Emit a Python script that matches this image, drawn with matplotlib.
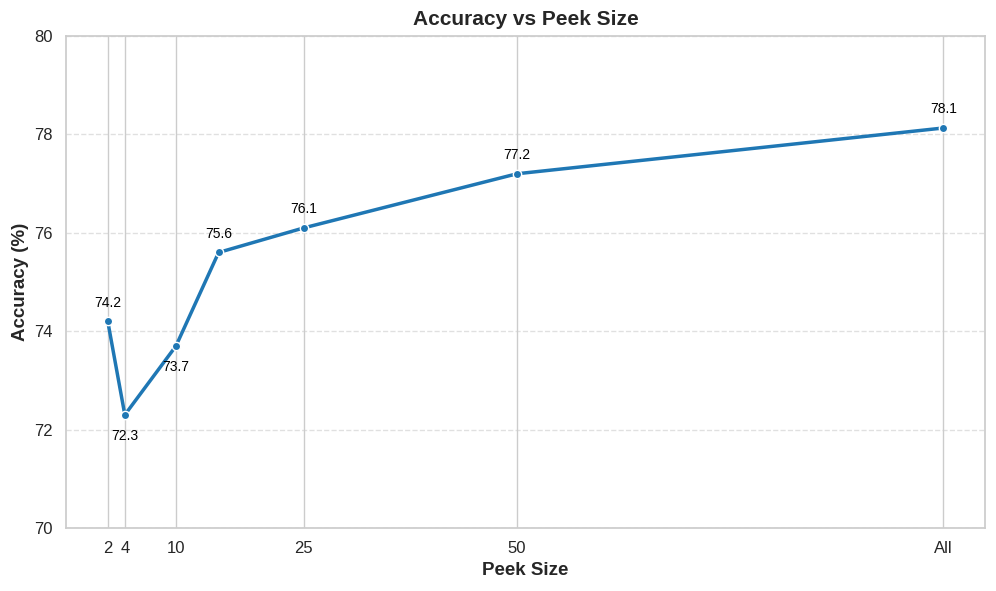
import matplotlib
matplotlib.use("Agg")
import matplotlib.pyplot as plt
import seaborn as sns

peek_sizes = [2, 4, 10, 15, 25, 50, 100]
accuracy = [74.2, 72.3, 73.7, 75.6, 76.1, 77.2, 78.13]
labels = ["74.2", "72.3", "73.7", "75.6", "76.1", "77.2", "78.1"]
label_below = [False, True, True, False, False, False, False]
tick_positions = [2, 4, 10, 25, 50, 100]
tick_labels = ["2", "4", "10", "25", "50", "All"]

sns.set_theme(style="whitegrid")
plt.rcParams['font.family'] = ['Liberation Sans', 'DejaVu Sans']

fig = plt.figure(figsize=(9.96, 5.91), dpi=100)
ax = fig.add_axes([66/996, 1-528/591, (985-66)/996, (528-36)/591])

ax.plot(peek_sizes, accuracy, color="#1f77b4", linewidth=2.5, marker="o",
        markersize=6, markeredgecolor="white", markeredgewidth=1)

for x, y, t, below in zip(peek_sizes, accuracy, labels, label_below):
    ax.annotate(t, (x, y), textcoords="offset points",
                xytext=(0, -15 if below else 13.5), ha="center", va="center",
                fontsize=10, color="black")

ax.set_ylim(70, 80)
ax.set_xticks(tick_positions)
ax.set_xticklabels(tick_labels)
ax.tick_params(axis="both", labelsize=12, colors="#262626")
ax.grid(axis="y", linestyle="--", alpha=0.6)
ax.grid(axis="x", linestyle="-")
ax.set_xlabel("Peek Size", fontsize=13.5, fontweight="bold", color="#262626")
ax.set_ylabel("Accuracy (%)", fontsize=13.5, fontweight="bold", color="#262626")
ax.set_title("Accuracy vs Peek Size", fontsize=15, fontweight="bold", color="#262626", pad=8)

fig.savefig("out.png", dpi=100)
